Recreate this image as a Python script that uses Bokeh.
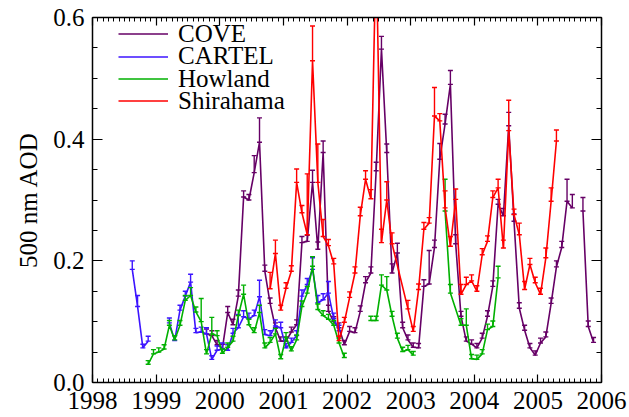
import numpy as np
from bokeh.plotting import figure
from bokeh.models import (LinearAxis, FixedTicker, Legend, LegendItem,
                          ColumnDataSource, Range1d)
from bokeh.embed import file_html
from bokeh.resources import INLINE

nan = float("nan")

# ---------------- data (months counted from Jan 1998 = 0) ----------------
x_tick_values = [1998, 1999, 2000, 2001, 2002, 2003, 2004, 2005, 2006]
x_tick_labels = ["1998", "1999", "2000", "2001", "2002", "2003", "2004", "2005", "2006"]
y_tick_values = [0.0, 0.2, 0.4, 0.6]
y_tick_labels = ["0.0", "0.2", "0.4", "0.6"]
y_label = "500 nm AOD"

series_names = ["COVE", "CARTEL", "Howland", "Shirahama"]

cove_month = list(range(21, 95))
cove_aod = [0.080, 0.077, 0.062, 0.056, 0.115, 0.095, 0.142, 0.305, 0.300, 0.345,
            0.395, 0.183, 0.130, 0.090, 0.068, 0.068, 0.083, 0.095, 0.230, 0.232,
            0.329, 0.219, 0.378, 0.117, 0.100, 0.090, 0.062, 0.084, 0.082, 0.117,
            0.164, 0.180, 0.348, 0.548, 0.378, 0.180, 0.213, 0.090, 0.070, 0.058,
            0.057, 0.158, 0.162, 0.222, 0.367, 0.425, 0.490, 0.228, 0.109, 0.068,
            0.063, 0.057, 0.073, 0.109, 0.158, 0.293, 0.274, 0.422, 0.265, 0.122,
            0.086, 0.057, 0.045, 0.065, 0.075, 0.130, 0.190, 0.222, 0.298, 0.287,
            nan, 0.282, 0.092, 0.066]
cove_err = [0.008, 0.008, 0.007, 0.007, 0.010, 0.009, 0.010, 0.010, 0.009, 0.028,
            0.040, 0.010, 0.009, 0.008, 0.007, 0.007, 0.008, 0.008, 0.010, 0.010,
            0.020, 0.012, 0.019, 0.010, 0.008, 0.008, 0.007, 0.008, 0.008, 0.009,
            0.010, 0.010, 0.014, 0.021, 0.014, 0.015, 0.016, 0.009, 0.008, 0.007,
            0.007, 0.011, 0.055, 0.012, 0.026, 0.016, 0.023, 0.015, 0.008, 0.007,
            0.007, 0.007, 0.008, 0.009, 0.009, 0.008, 0.012, 0.022, 0.012, 0.009,
            0.008, 0.007, 0.007, 0.008, 0.008, 0.009, 0.010, 0.010, 0.036, 0.022,
            nan, 0.022, 0.009, 0.008]

cartel_month = [7, 8, 9, 10, 12] + list(range(14, 47))
cartel_aod = [0.186, 0.125, 0.057, 0.068, nan,
              0.098, 0.069, 0.119, 0.142, 0.165, 0.082, 0.083, 0.080, 0.038, 0.053,
              0.055, 0.053, 0.081, 0.090, 0.108, 0.105, 0.110, 0.141, 0.079, 0.077,
              0.093, 0.090, 0.057, 0.066, 0.077, 0.142, 0.161, 0.186, 0.131, 0.136,
              0.147, 0.105, 0.085]
cartel_err = [0.014, 0.018, 0.006, 0.008, nan,
              0.008, 0.008, 0.008, 0.008, 0.013, 0.007, 0.008, 0.010, 0.006, 0.007,
              0.010, 0.009, 0.008, 0.022, 0.010, 0.009, 0.009, 0.027, 0.008, 0.008,
              0.010, 0.009, 0.007, 0.007, 0.008, 0.010, 0.010, 0.019, 0.012, 0.010,
              0.019, 0.009, 0.009]

howland_month = (list(range(10, 48)) + [49] + list(range(52, 61)) + [62]
                 + [66, 67] + list(range(69, 77)))
howland_aod = [0.030, 0.047, 0.050, 0.055, 0.094, 0.070, 0.094, 0.135, 0.143, 0.116,
               0.100, 0.047, 0.080, 0.077, 0.048, 0.058, 0.068, 0.110, 0.145, 0.095,
               0.082, 0.115, 0.057, 0.066, 0.080, 0.039, 0.074, 0.052, 0.070, 0.125,
               0.147, 0.191, 0.120, 0.110, 0.104, 0.094, 0.065, 0.041,
               nan,
               0.102, 0.102, 0.160, 0.152, 0.109, 0.073, 0.051, 0.054, 0.045,
               nan,
               0.282, 0.147,
               0.094, 0.094, 0.039, 0.038, 0.047, 0.087, 0.092, 0.172]
howland_err = [0.006, 0.007, 0.007, 0.007, 0.008, 0.007, 0.008, 0.008, 0.013, 0.008,
               0.038, 0.007, 0.027, 0.008, 0.007, 0.007, 0.008, 0.009, 0.015, 0.009,
               0.008, 0.012, 0.008, 0.008, 0.009, 0.007, 0.008, 0.007, 0.008, 0.009,
               0.011, 0.016, 0.009, 0.008, 0.008, 0.008, 0.008, 0.007,
               nan,
               0.007, 0.007, 0.017, 0.022, 0.008, 0.008, 0.007, 0.007, 0.006,
               nan,
               0.052, 0.014,
               0.011, 0.027, 0.007, 0.007, 0.007, 0.009, 0.009, 0.019]

shirahama_month = list(range(33, 57)) + list(range(59, 88))
shirahama_aod = [0.154, 0.212, 0.119, 0.155, 0.183, 0.329, 0.279, 0.243, 0.529, 0.329,
                 0.240, 0.225, 0.195, 0.069, 0.099, 0.140, 0.180, 0.274, 0.334, 0.302,
                 0.720, 0.230, 0.300, 0.228,
                 0.121, 0.084, 0.153, 0.252, 0.262, 0.438, 0.430, 0.287, 0.224, 0.301,
                 0.145, 0.161, 0.167, 0.150, 0.210, 0.232, 0.304, 0.320, 0.221, 0.414,
                 0.276, 0.243, 0.153, 0.194, 0.164, 0.145, 0.205, 0.298, 0.397]
shirahama_err = [0.027, 0.022, 0.008, 0.009, 0.009, 0.022, 0.012, 0.100, 0.057, 0.063,
                 0.028, 0.010, 0.009, 0.007, 0.008, 0.009, 0.010, 0.014, 0.014, 0.015,
                 nan, 0.022, 0.030, 0.018,
                 0.014, 0.008, 0.009, 0.011, 0.009, 0.047, 0.012, 0.028, 0.016, 0.017,
                 0.016, 0.012, 0.010, 0.009, 0.010, 0.009, 0.011, 0.014, 0.013, 0.050,
                 0.009, 0.019, 0.013, 0.010, 0.009, 0.010, 0.016, 0.022, 0.018]

colors = ["#660066", "#3c14ff", "#00b000", "#ff0000"]

# ---------------- figure ----------------
FONT = "Liberation Serif"
W, H = 629, 417
BL, BR, BT, BB = 92, 28, 17, 35
p = figure(width=W, height=H, x_range=Range1d(1998, 2006), y_range=Range1d(0.0, 0.6),
           output_backend="svg", toolbar_location=None,
           min_border_left=BL, min_border_right=BR, min_border_top=BT, min_border_bottom=BB)
p.xgrid.visible = False
p.ygrid.visible = False
p.outline_line_color = None
p.background_fill_color = "white"
p.border_fill_color = "white"

xminor = [1998 + k / 12 for k in range(0, 97)]
yminor = [k * 0.05 for k in range(0, 13)]
xt = FixedTicker(ticks=x_tick_values, minor_ticks=xminor)
yt = FixedTicker(ticks=y_tick_values, minor_ticks=yminor)


def style(ax, ticker, major_in, minor_in):
    ax.ticker = ticker
    ax.axis_line_color = "black"
    ax.axis_line_width = 1.5
    ax.major_tick_line_color = "black"
    ax.minor_tick_line_color = "black"
    ax.major_tick_line_width = 1.2
    ax.minor_tick_line_width = 1.0
    ax.major_tick_in = major_in
    ax.major_tick_out = 0
    ax.minor_tick_in = minor_in
    ax.minor_tick_out = 0
    ax.major_label_text_font = FONT
    ax.major_label_text_font_size = "25px"
    ax.major_label_text_color = "black"


bx = p.xaxis[0]
style(bx, xt, 8, 4)
bx.major_label_overrides = dict(zip(x_tick_values, x_tick_labels))
bx.major_label_standoff = 9

ly = p.yaxis[0]
style(ly, yt, 10, 5)
ly.major_label_overrides = dict(zip(y_tick_values, y_tick_labels))
ly.major_label_standoff = 8
ly.axis_label = y_label
ly.axis_label_text_font = FONT
ly.axis_label_text_font_size = "25px"
ly.axis_label_text_font_style = "normal"
ly.axis_label_text_color = "black"
ly.axis_label_standoff = 8

# mirror axes (ticks only, labels not drawn)
top = LinearAxis()
style(top, xt, 8, 4)
top.major_label_text_color = None
top.major_label_text_font_size = "1px"
top.major_label_standoff = 0
p.add_layout(top, "above")

right = LinearAxis()
style(right, yt, 10, 5)
right.major_label_text_color = None
right.major_label_text_font_size = "1px"
right.major_label_standoff = 0
p.add_layout(right, "right")

# ---------------- series ----------------
all_series = [
    (cove_month, cove_aod, cove_err),
    (cartel_month, cartel_aod, cartel_err),
    (howland_month, howland_aod, howland_err),
    (shirahama_month, shirahama_aod, shirahama_err),
]

renderers = []
for color, (mon, aod, err) in zip(colors, all_series):
    x = 1998 + (np.array(mon, dtype=float) + 0.5) / 12.0
    v = np.array(aod, dtype=float)
    e = np.array(err, dtype=float)
    src = ColumnDataSource(dict(x=x, v=v, top=v + e))
    r = p.line("x", "v", source=src, line_color=color, line_width=1.6)
    p.segment(x0="x", y0="v", x1="x", y1="top", source=src, line_color=color, line_width=1.4)
    p.scatter("x", "v", source=src, marker="dash", size=5, line_color=color, line_width=1.4)
    p.scatter("x", "top", source=src, marker="dash", size=5, line_color=color, line_width=1.4)
    renderers.append(r)

# legend: one row per entry, rows 22.4 px apart from the top of the frame
frame_h = H - BT - BB
row_h = 29
for k, (name, r) in enumerate(zip(series_names, renderers)):
    center_from_top = 16.7 + 22.4 * k
    lg = Legend(items=[LegendItem(label=name, renderers=[r])],
                location=(26, frame_h - center_from_top - row_h / 2),
                label_text_font=FONT, label_text_font_size="25px", label_text_color="black",
                glyph_width=50, glyph_height=row_h, label_height=row_h, spacing=0,
                padding=0, margin=0, label_standoff=10,
                border_line_alpha=0, background_fill_alpha=0)
    p.add_layout(lg)

open("out.html", "w").write(file_html(p, INLINE))
